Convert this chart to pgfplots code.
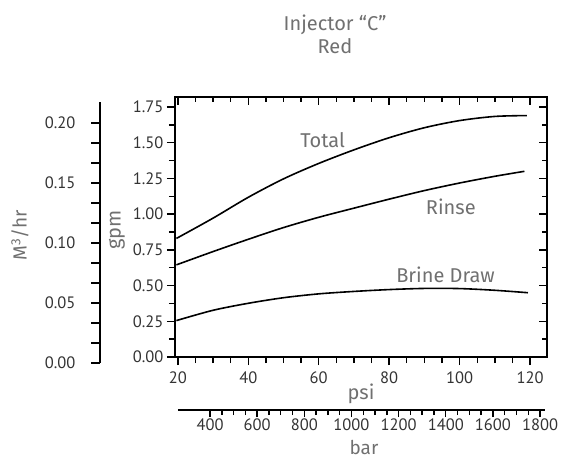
\documentclass[border=0pt]{standalone}
\usepackage{pgfplots}
\pgfplotsset{compat=1.18}
\usepackage{fontspec}
\setmainfont{PT Sans}
\newfontfamily\din{Fira Sans}
\definecolor{lbl}{HTML}{707070}
\definecolor{tk}{HTML}{333333}

\begin{document}
\begin{tikzpicture}
\pgfplotsset{
  every tick label/.append style={font=\fontsize{16.5}{19}\selectfont, text=tk},
  /pgf/number format/assume math mode=true,
  every tick/.style={black, line width=1.4pt},
}
% main gpm / psi axis (ticks outside on left and bottom)
\begin{axis}[
  at={(0,0)}, anchor=south west,
  width=372pt, height=260pt, scale only axis,
  xmin=19.2, xmax=124.8, ymin=0, ymax=1.82,
  xtick={20,40,60,80,100,120}, minor x tick num=3,
  ytick={0,0.25,0.5,0.75,1,1.25,1.5,1.75}, minor y tick num=1,
  xtick pos=left, ytick pos=left, tick align=outside,
  major tick length=8pt, minor tick length=6pt,
  axis line style={line width=2pt},
  yticklabel style={/pgf/number format/.cd, fixed, fixed zerofill, precision=2},
  xticklabel style={yshift=-3pt},
  xlabel={\din\color{lbl}\fontsize{20}{22}\selectfont psi},
  xlabel style={yshift=6pt},
  clip=false,
]
\addplot[black, line width=1.6pt, smooth] coordinates {
  (19.6,0.83) (30,0.972) (40,1.118) (50,1.247) (60,1.355) (70,1.45)
  (80,1.535) (90,1.605) (100,1.655) (110,1.684) (119.1,1.69)};
\addplot[black, line width=1.6pt, smooth] coordinates {
  (19.6,0.645) (30,0.738) (40,0.824) (50,0.906) (60,0.978) (70,1.042)
  (80,1.105) (90,1.165) (100,1.218) (110,1.265) (118.4,1.30)};
\addplot[black, line width=1.6pt, smooth] coordinates {
  (19.6,0.255) (30,0.327) (40,0.376) (50,0.415) (60,0.442) (70,0.459)
  (80,0.472) (90,0.480) (100,0.479) (110,0.467) (119.4,0.45)};
\node[font=\din\fontsize{20}{22}\selectfont, text=lbl] at (axis cs:61.1,1.519) {Total};
\node[font=\din\fontsize{20}{22}\selectfont, text=lbl] at (axis cs:97.5,1.052) {Rinse};
\node[font=\din\fontsize{20}{22}\selectfont, text=lbl] at (axis cs:96.0,0.574) {Brine Draw};
\end{axis}
% inner ticks on top and right
\begin{axis}[
  at={(0,0)}, anchor=south west,
  width=372pt, height=260pt, scale only axis,
  xmin=19.2, xmax=124.8, ymin=0, ymax=1.82,
  xtick={20,40,60,80,100,120}, minor x tick num=3,
  ytick={0,0.25,0.5,0.75,1,1.25,1.5,1.75}, minor y tick num=1,
  xtick pos=right, ytick pos=right, tick align=inside,
  major tick length=8pt, minor tick length=5pt,
  xticklabels={}, yticklabels={},
  axis line style={draw=none},
]
\end{axis}
% M3/hr axis
\begin{axis}[
  at={(-75pt,-6pt)}, anchor=south west,
  width=1pt, height=261pt, scale only axis,
  xmin=0, xmax=1, ymin=0, ymax=0.2175,
  hide x axis, axis y line*=left,
  ytick={0,0.05,0.1,0.15,0.2}, minor y tick num=2,
  tick align=outside, major tick length=9pt, minor tick length=9pt,
  axis line style={line width=1.4pt},
  yticklabel style={xshift=-12pt, /pgf/number format/.cd, fixed, fixed zerofill, precision=2},
]
\end{axis}
% bar axis
\begin{axis}[
  at={(3pt,-53pt)}, anchor=south west,
  width=367pt, height=1pt, scale only axis,
  xmin=264, xmax=1821, ymin=0, ymax=1,
  hide y axis, axis x line*=bottom,
  xtick={400,600,800,1000,1200,1400,1600,1800}, minor x tick num=3,
  tick align=outside, major tick length=7pt, minor tick length=5pt,
  axis line style={line width=1.8pt},
  xticklabel style={yshift=2pt, /pgf/number format/.cd, set thousands separator={}},
]
\end{axis}
\node[font=\din\fontsize{19}{21}\selectfont, text=lbl, inner sep=1pt] at (189pt,-90pt) {bar};
\node[font=\din\fontsize{19}{22}\selectfont, text=lbl] at (-155pt,122pt) {\rotatebox{90}{M\textsuperscript{3}/hr}};
\node[font=\din\fontsize{20}{22}\selectfont, text=lbl] at (-58pt,127pt) {\rotatebox{90}{gpm}};
\node[font=\din\fontsize{20}{23}\selectfont, text=lbl, align=center] at (160pt,323pt) {Injector “C”\\Red};
\pgfresetboundingbox
\path[use as bounding box] (-175pt,-102pt) rectangle (390pt,357pt);
\end{tikzpicture}
\end{document}
